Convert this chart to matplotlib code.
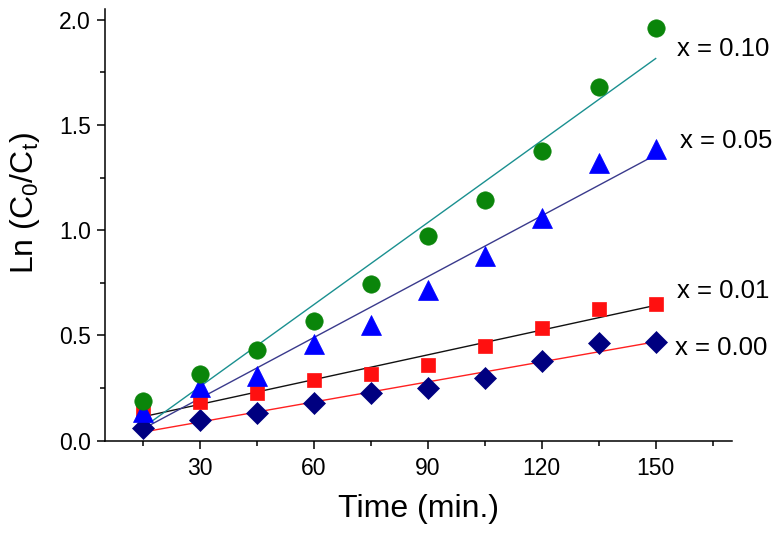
import numpy as np
import matplotlib
matplotlib.use("Agg")
import matplotlib.pyplot as plt
from matplotlib.ticker import MultipleLocator

plt.rcParams['font.family'] = ['Liberation Sans', 'DejaVu Sans']
plt.rcParams['mathtext.default'] = 'regular'

# sampling time (min.)
time_min = [15, 30, 45, 60, 75, 90, 105, 120, 135, 150]

# Ln(C0/Ct)
x000 = [0.059, 0.099, 0.130, 0.178, 0.229, 0.250, 0.300, 0.380, 0.464, 0.467]
x001 = [0.143, 0.186, 0.229, 0.289, 0.318, 0.360, 0.448, 0.535, 0.627, 0.651]
x005 = [0.138, 0.254, 0.308, 0.460, 0.551, 0.718, 0.880, 1.059, 1.321, 1.384]
x010 = [0.190, 0.319, 0.429, 0.571, 0.745, 0.973, 1.146, 1.376, 1.683, 1.959]

labels = ['x = 0.00', 'x = 0.01', 'x = 0.05', 'x = 0.10']
label_pos = [(155.0, 0.441), (155.5, 0.71), (156.5, 1.424), (155.5, 1.86)]

series = [
    # data, marker, size, marker colour, fit colour
    (x000, 'D', 11, '#000080', '#ff2020'),
    (x001, 's', 10.5, '#ff1010', '#111111'),
    (x005, '^', 14, '#0000ff', '#3a3a8c'),
    (x010, 'o', 12.5, '#0a850a', '#1a9090'),
]

fig = plt.figure(figsize=(7.8, 5.34), dpi=100)
ax = fig.add_axes([0.1346, 0.1747, 0.938 - 0.1346, 0.9826 - 0.1747])

t = np.array(time_min)
# fit lines first, markers on top
for vals, mk, ms, mc, lc in series:
    k, b = np.polyfit(t, vals, 1)
    ax.plot(t, k * t + b, color=lc, lw=1.0, zorder=2)
for vals, mk, ms, mc, lc in series:
    ax.plot(t, vals, linestyle='none', marker=mk, markersize=ms,
            color=mc, markeredgecolor=mc, markeredgewidth=0.5, zorder=3)

for lab, (px, py) in zip(labels, label_pos):
    ax.text(px, py, lab, fontsize=18.5, va='center', ha='left', clip_on=False)

ax.set_xlim(5, 170)
ax.set_ylim(0, 2.05)
ax.xaxis.set_major_locator(MultipleLocator(30))
ax.xaxis.set_minor_locator(MultipleLocator(15))
ax.yaxis.set_major_locator(MultipleLocator(0.5))
ax.yaxis.set_minor_locator(MultipleLocator(0.25))
ax.set_xticks([30, 60, 90, 120, 150])
ax.yaxis.set_major_formatter(matplotlib.ticker.FormatStrFormatter('%.1f'))

ax.spines['top'].set_visible(False)
ax.spines['right'].set_visible(False)
for s in ['left', 'bottom']:
    ax.spines[s].set_linewidth(1.1)
ax.tick_params(which='major', direction='out', length=6, width=1.1,
               labelsize=16.5, colors='black')
ax.tick_params(which='minor', direction='out', length=3.6, width=1.1)
ax.tick_params(axis='x', which='major', pad=6)
ax.tick_params(axis='y', which='major', pad=4)

ax.set_xlabel('Time (min.)', fontsize=23, labelpad=10)
ax.set_ylabel(r'Ln (C$_0$/C$_t$)', fontsize=23)
ax.yaxis.set_label_coords(-0.1, 0.55)

fig.savefig('out.png', dpi=100)
